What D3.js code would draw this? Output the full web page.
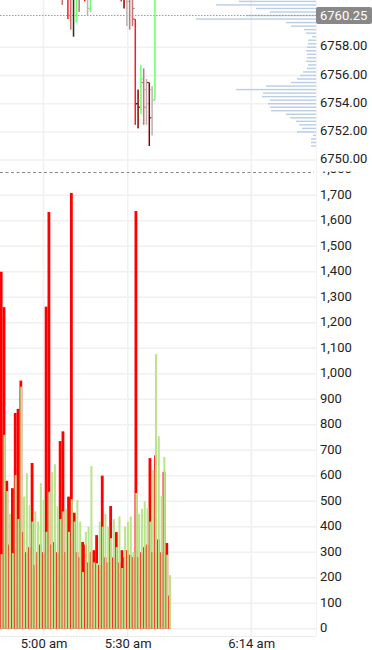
<!DOCTYPE html>
<html lang="en">
<head>
<title>price and volume</title>
<script src="https://d3js.org/d3.v7.min.js"></script>
<style>
  body { margin: 0; background: #fff; }
  text { font-family: Roboto, "Noto Sans", sans-serif; }
</style>
</head>
<body>
<div id="mainDiv"></div>
<script>
const width = 372
const height = 650
const plotRight = 316

// minute bars, first one at 4:44 am
const firstBar = '04:44'
const sellVol = [1400, 1261, 580, 330, 551, 846, 862, 973, 380, 300,
                 320, 650, 250, 300, 330, 300, 1263, 1634, 330, 340,
                 300, 736, 774, 300, 518, 1709, 455, 300, 280, 340,
                 330, 260, 300, 308, 367, 250, 600, 280, 260, 481,
                 280, 379, 260, 308, 280, 308, 290, 281, 1638, 280,
                 300, 320, 330, 669, 300, 680, 350, 300, 615, 336, 130]
const buyVol = [292, 760, 540, 450, 296, 602, 430, 949, 518, 610,
                485, 420, 460, 420, 571, 505, 380, 537, 614, 645,
                480, 430, 460, 470, 380, 508, 420, 505, 420, 222,
                380, 400, 638, 260, 257, 420, 400, 450, 400, 355,
                430, 320, 440, 238, 400, 420, 440, 300, 532, 450,
                470, 500, 473, 420, 622, 1077, 755, 520, 674, 290, 210]

// candles that reach into the visible price range (index = minute from firstBar)
const candleIdx   = [22, 24, 25, 26, 27, 28, 30, 31, 32, 43, 44, 45, 46, 47, 48, 49, 50, 51, 52, 53, 54, 55]
const candleOpen  = [6763, 6763, 6763, 6762, 6762, 6763, 6763, 6763, 6762, 6763, 6763, 6762.5, 6763, 6762.5, 6760.0, 6754.0, 6754.25, 6755.5, 6755.0, 6755.5, 6755.0, 6754.25]
const candleHigh  = [6765, 6765, 6765, 6764, 6764, 6765, 6765, 6765, 6764, 6765, 6765, 6764, 6765, 6764, 6760.0, 6755.0, 6756.75, 6756.5, 6755.75, 6755.5, 6755.25, 6764]
const candleLow   = [6761.0, 6760.0, 6759.25, 6758.75, 6759.75, 6760.5, 6761.25, 6760.25, 6760.5, 6761.25, 6760.75, 6759.5, 6759.25, 6759.5, 6752.5, 6752.25, 6753.25, 6752.5, 6752.5, 6751.0, 6751.75, 6754.25]
const candleClose = [6762, 6762, 6762, 6763, 6763, 6762, 6762, 6760.75, 6763, 6762, 6761.5, 6761.25, 6762, 6760.75, 6754.0, 6753.75, 6755.75, 6753.75, 6754.0, 6753.0, 6754.25, 6764]
const candleKind  = ['pink', 'red', 'pink', 'darkgreen', 'green', 'pink', 'red', 'grey', 'green',
                     'red', 'darkred', 'grey', 'pink', 'pink', 'red', 'darkred', 'green', 'pink', 'grey', 'darkred', 'grey', 'green']

// volume at price (right side profile), from 6761.25 down in 0.25 steps
const profileTop = 6761.25
const profileVol = [770, 1000, 600, 460, 700, 1200, 300, 250, 120, 100,
                    40, 80, 80, 90, 100, 90, 90, 100, 80, 90,
                    130, 160, 190, 250, 500, 800, 530, 540, 460, 480,
                    460, 450, 300, 260, 200, 170, 140, 190, 30, 50, 50, 50]

const lastPrice = 6760.25
const priceTicks = [6750, 6752, 6754, 6756, 6758]
const volTicks = d3.range(0, 1801, 100)
const timeTicks = ['05:00', '05:30', '06:14']

const kindColor = {
  red: '#ff1a1a', darkred: '#8b0000', pink: '#c47474',
  grey: '#bdb2b2', green: '#6cff6c', darkgreen: '#1e3c00'
}

const parseT = d3.timeParse('%H:%M')
const x = d3.scaleTime()
  .domain([parseT('05:00'), parseT('05:30')])
  .range([43.5, 127.7])
const step = x(parseT('05:01')) - x(parseT('05:00'))
const barTime = i => d3.timeMinute.offset(parseT(firstBar), i)

const yPrice = d3.scaleLinear().domain([6749.3, 6761.35]).range([170, 0])
const yVol = d3.scaleLinear().domain([0, 1800]).range([628.7, 169.7])
const xProf = d3.scaleLinear().domain([0, 1200]).range([plotRight, plotRight - 120])

const svg = d3.select('#mainDiv').append('svg')
  .attr('width', width)
  .attr('height', height)

const defs = svg.append('defs')
defs.append('clipPath').attr('id', 'clipTop')
  .append('rect').attr('x', 0).attr('y', 0).attr('width', plotRight).attr('height', 170)
defs.append('clipPath').attr('id', 'clipVol')
  .append('rect').attr('x', 0).attr('y', 173).attr('width', plotRight).attr('height', 463)
defs.append('clipPath').attr('id', 'clipVolAxis')
  .append('rect').attr('x', 0).attr('y', 171.5).attr('width', width).attr('height', 470)

// grid
const grid = svg.append('g').attr('stroke', '#f0f0f0').attr('stroke-width', 1.5)
grid.selectAll('.vg').data(timeTicks).join('line').attr('class', 'vg')
  .attr('x1', d => x(parseT(d))).attr('x2', d => x(parseT(d)))
  .attr('y1', 0).attr('y2', 636)
grid.selectAll('.pg').data(priceTicks).join('line').attr('class', 'pg')
  .attr('x1', 0).attr('x2', plotRight)
  .attr('y1', d => yPrice(d)).attr('y2', d => yPrice(d))
grid.selectAll('.volg').data(volTicks.filter(d => d <= 1700)).join('line').attr('class', 'volg')
  .attr('x1', 0).attr('x2', plotRight)
  .attr('y1', d => yVol(d)).attr('y2', d => yVol(d))

svg.append('line').attr('x1', 0).attr('x2', plotRight).attr('y1', 636.5).attr('y2', 636.5)
  .attr('stroke', '#ececec')
svg.append('line').attr('x1', plotRight + 0.5).attr('x2', plotRight + 0.5).attr('y1', 0).attr('y2', 636)
  .attr('stroke', '#f3f3f3')

// volume profile
const topPanel = svg.append('g').attr('clip-path', 'url(#clipTop)')
topPanel.selectAll('.prof').data(profileVol).join('rect').attr('class', 'prof')
  .attr('x', d => xProf(d))
  .attr('y', (d, i) => yPrice(profileTop - i * 0.25) - 0.7)
  .attr('width', d => plotRight - xProf(d))
  .attr('height', 1.4)
  .attr('fill', '#b9cde8')

// last price line
topPanel.append('line')
  .attr('x1', 0).attr('x2', plotRight)
  .attr('y1', yPrice(lastPrice)).attr('y2', yPrice(lastPrice))
  .attr('stroke', '#9a9a9a').attr('stroke-dasharray', '1.5,1.5')

// candles
const candles = candleIdx.map((k, i) => ({
  cx: x(barTime(k)) + 0.7 * step,
  o: candleOpen[i], h: candleHigh[i], l: candleLow[i], c: candleClose[i],
  col: kindColor[candleKind[i]]
}))
const cg = topPanel.selectAll('.candle').data(candles).join('g').attr('class', 'candle')
cg.append('rect')
  .attr('x', d => d.cx - 0.75).attr('width', 1.5)
  .attr('y', d => yPrice(d.h)).attr('height', d => yPrice(d.l) - yPrice(d.h))
  .attr('fill', d => d.col)
cg.append('rect')
  .attr('x', d => d.cx - 2.2).attr('width', 1.6)
  .attr('y', d => yPrice(d.o) - 0.6).attr('height', 1.2)
  .attr('fill', d => d.col)
cg.append('rect')
  .attr('x', d => d.cx + 0.6).attr('width', 1.6)
  .attr('y', d => yPrice(d.c) - 0.6).attr('height', 1.2)
  .attr('fill', d => d.col)

// volume bars: sell behind at full width, buy in front shifted right
const vol = svg.append('g').attr('clip-path', 'url(#clipVol)')
const bars = sellVol.map((s, i) => ({ left: x(barTime(i)) + 1.2, s: s, b: buyVol[i] }))
vol.selectAll('.sell').data(bars).join('rect').attr('class', 'sell')
  .attr('x', d => d.left).attr('width', step)
  .attr('y', d => yVol(d.s)).attr('height', d => yVol(0) - yVol(d.s))
  .attr('fill', '#ff0000')
vol.selectAll('.buy').data(bars).join('rect').attr('class', 'buy')
  .attr('x', d => d.left + 0.8).attr('width', step - 0.8)
  .attr('y', d => yVol(d.b)).attr('height', d => yVol(0) - yVol(d.b))
  .attr('fill', '#bbe38c')

// panel separator
svg.append('line').attr('x1', 0).attr('x2', 314).attr('y1', 172.5).attr('y2', 172.5)
  .attr('stroke', '#8a8a8a').attr('stroke-dasharray', '3,2.5')

const styleText = g => g.selectAll('text')
  .attr('font-size', 13).attr('fill', '#222').attr('font-family', 'Roboto')

// price axis
const priceAxis = d3.axisRight(yPrice).tickValues(priceTicks).tickFormat(d3.format('.2f')).tickSize(0).tickPadding(4)
svg.append('g').attr('transform', `translate(${plotRight},-1.5)`).call(priceAxis)
  .call(g => g.select('.domain').remove())
  .call(styleText)

// last price tag
const tag = svg.append('g')
tag.append('rect').attr('x', plotRight).attr('y', yPrice(lastPrice) - 8.5)
  .attr('width', 56).attr('height', 17).attr('rx', 2).attr('fill', '#888')
tag.append('text').attr('x', plotRight + 4).attr('y', yPrice(lastPrice))
  .attr('dy', '0.35em').attr('font-size', 13).attr('fill', '#fff')
  .text(d3.format('.2f')(lastPrice))

// volume axis
const volAxis = d3.axisRight(yVol).tickValues(volTicks).tickFormat(d3.format(',')).tickSize(0).tickPadding(4)
svg.append('g').attr('clip-path', 'url(#clipVolAxis)')
  .append('g').attr('transform', `translate(${plotRight},-1)`).call(volAxis)
  .call(g => g.select('.domain').remove())
  .call(styleText)

// time axis
const timeAxis = d3.axisBottom(x).tickValues(timeTicks.map(parseT))
  .tickFormat(d => d3.timeFormat('%-I:%M %p')(d).toLowerCase()).tickSize(0).tickPadding(3)
svg.append('g').attr('transform', 'translate(0,636)').call(timeAxis)
  .call(g => g.select('.domain').remove())
  .call(styleText)
</script>
</body>
</html>
